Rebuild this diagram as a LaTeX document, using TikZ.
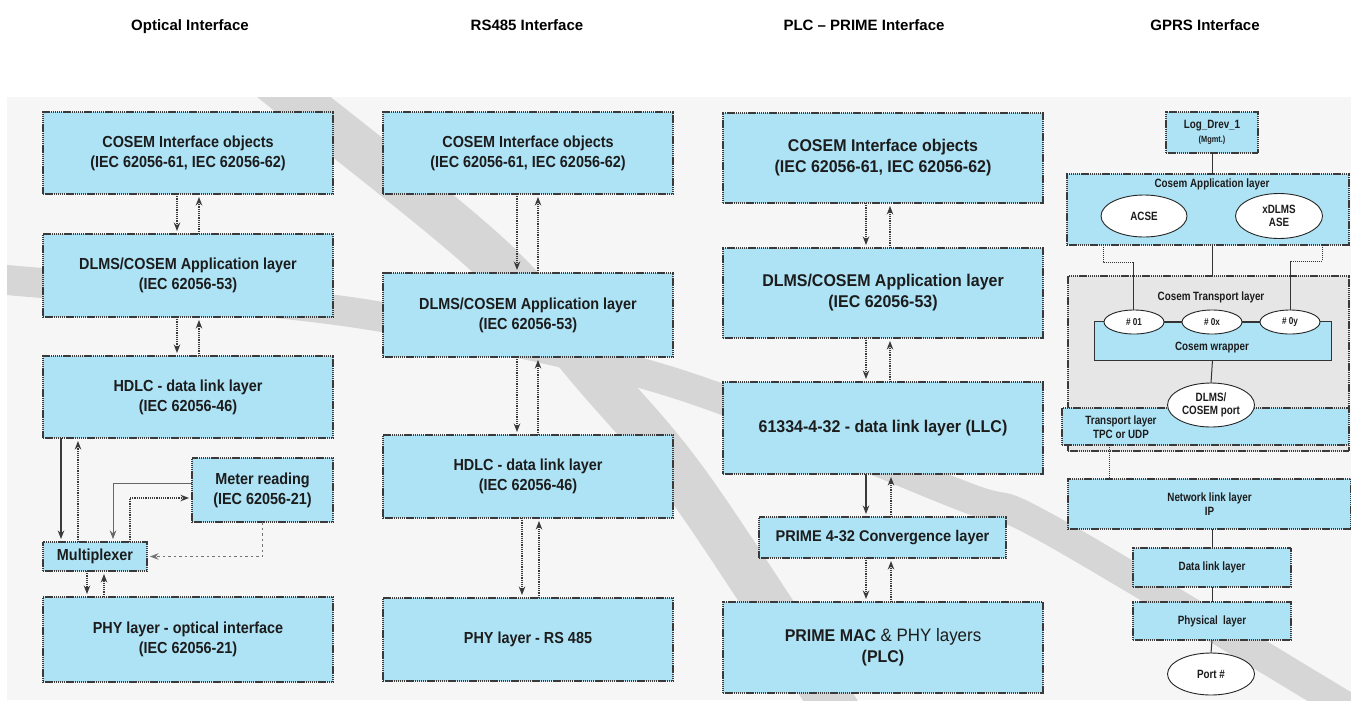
\documentclass[tikz,border=0pt]{standalone}
\usepackage{fontspec}
\setmainfont{Liberation Sans}
\newfontfamily\cnd[FakeStretch=0.9]{Liberation Sans}
\newfontfamily\cndp[FakeStretch=0.94]{Liberation Sans}
\newfontfamily\cndg[FakeStretch=0.82]{Liberation Sans}
\usetikzlibrary{arrows.meta,shapes.geometric}
\definecolor{boxblue}{HTML}{AEE3F6}
\definecolor{panelc}{HTML}{F6F6F6}
\definecolor{stripec}{HTML}{D6D6D6}
\definecolor{tgray}{HTML}{E6E6E6}
\definecolor{bord}{HTML}{3A3A3A}
\definecolor{txt}{HTML}{1C1C1C}
\begin{document}
\begin{tikzpicture}[x=1pt,y=-1pt,
 lay/.style={draw=bord, fill=boxblue, line width=1.1pt, dash pattern=on 1.4pt off 0.7pt, inner sep=0pt, outer sep=0pt, align=center, text=txt},
 ft/.style={font=\cnd\bfseries\fontsize{16}{20}\selectfont},
 fp/.style={font=\cndp\bfseries\fontsize{17}{21}\selectfont},
 fg/.style={font=\cndg\bfseries\fontsize{12}{14}\selectfont, align=center, text=txt},
 ell/.style={ellipse, draw=black!85, fill=white, line width=0.9pt, inner sep=0pt, outer sep=0pt, align=center, text=txt, font=\cndg\bfseries\fontsize{12}{13}\selectfont},
 conn/.style={draw=bord, line width=1.2pt, densely dotted, -{Stealth[length=8.5pt,width=6.5pt]}, shorten >=3pt},
 gline/.style={draw=black!80, line width=1pt},
 gdot/.style={draw=black!80, line width=1pt, densely dotted},
 titl/.style={font=\bfseries\fontsize{15}{18}\selectfont, text=black, anchor=base}
]
\useasboundingbox (0,0) rectangle (1351,702);
\fill[white] (0,0) rectangle (1351,702);
\fill[panelc] (7,97) rectangle (1351,700);
\begin{scope}
\clip (7,97) rectangle (1351,700);
\draw[stripec, line width=46pt] plot[smooth, tension=0.55] coordinates {(245,58) (295,98) (489,256) (600,380) (690,488) (830,700) (846,730)};
\draw[stripec, line width=30pt] plot[smooth, tension=0.55] coordinates {(-20,277) (7,280) (357,313) (665,380) (960,495) (1045,527) (1335,700) (1360,716)};
\end{scope}

% titles
\node[titl] (t1) at (190,30) {Optical Interface};
\node[titl] (t2) at (527,30) {RS485 Interface};
\node[titl] (t3) at (864,30) {PLC \textendash{} PRIME Interface};
\node[titl] (t4) at (1205,30) {GPRS Interface};

% optical
\node[lay, ft, minimum width=290, minimum height=82] (oC) at (188,153) {COSEM Interface objects\\(IEC 62056-61, IEC 62056-62)};
\node[lay, ft, minimum width=290, minimum height=83] (oD) at (188,275.5) {DLMS/COSEM Application layer\\(IEC 62056-53)};
\node[lay, ft, minimum width=290, minimum height=82] (oH) at (188,397) {HDLC - data link layer\\(IEC 62056-46)};
\node[lay, ft, minimum width=141, minimum height=64] (oM) at (262.5,490) {Meter reading\\(IEC 62056-21)};
\node[lay, ft, minimum width=104, minimum height=29] (oX) at (95,556.5) {Multiplexer};
\node[lay, ft, minimum width=290, minimum height=85] (oP) at (188,639.5) {PHY layer - optical interface\\(IEC 62056-21)};

\draw[conn] ([xshift=-11pt]oC.south) -- ([xshift=-11pt]oD.north);
\draw[conn] ([xshift=11pt]oD.north) -- ([xshift=11pt]oC.south);
\draw[conn] ([xshift=-11pt]oD.south) -- ([xshift=-11pt]oH.north);
\draw[conn] ([xshift=11pt]oH.north) -- ([xshift=11pt]oD.south);
\draw[conn, solid, line width=1.4pt] ([xshift=-34pt]oX.north |- oH.south) -- ([xshift=-34pt]oX.north);
\draw[conn] ([xshift=-17pt]oX.north) -- ([xshift=-17pt]oX.north |- oH.south);
\draw[conn, solid, line width=0.6pt, draw=black!60] ([yshift=7pt]oM.west) -| ([xshift=18pt]oX.north);
\draw[conn] ([xshift=35pt]oX.north) |- ([yshift=-8pt]oM.west);
\draw[conn, dash pattern=on 2.5pt off 3pt, draw=black!55] (oM.south) |- (oX.east);
\draw[conn] ([xshift=-8pt]oX.south) -- ([xshift=-8pt]oX.south |- oP.north);
\draw[conn] ([xshift=9pt]oX.south |- oP.north) -- ([xshift=9pt]oX.south);

% RS485
\node[lay, ft, minimum width=290, minimum height=82] (rC) at (528,153) {COSEM Interface objects\\(IEC 62056-61, IEC 62056-62)};
\node[lay, ft, minimum width=290, minimum height=84] (rD) at (528,315) {DLMS/COSEM Application layer\\(IEC 62056-53)};
\node[lay, ft, minimum width=290, minimum height=83] (rH) at (528,476.5) {HDLC - data link layer\\(IEC 62056-46)};
\node[lay, ft, minimum width=290, minimum height=83] (rP) at (528,639.5) {PHY layer - RS 485};
\draw[conn] ([xshift=-11pt]rC.south) -- ([xshift=-11pt]rD.north);
\draw[conn] ([xshift=10pt]rD.north) -- ([xshift=10pt]rC.south);
\draw[conn] ([xshift=-11pt]rD.south) -- ([xshift=-11pt]rH.north);
\draw[conn] ([xshift=10pt]rH.north) -- ([xshift=10pt]rD.south);
\draw[conn] ([xshift=-6pt]rH.south) -- ([xshift=-6pt]rP.north);
\draw[conn] ([xshift=11pt]rP.north) -- ([xshift=11pt]rH.south);

% PLC
\node[lay, fp, minimum width=320, minimum height=90] (pC) at (883,158) {COSEM Interface objects\\(IEC 62056-61, IEC 62056-62)};
\node[lay, fp, minimum width=320, minimum height=90] (pD) at (883,293) {DLMS/COSEM Application layer\\(IEC 62056-53)};
\node[lay, fp, minimum width=320, minimum height=92] (pL) at (883,428) {61334-4-32 - data link layer (LLC)};
\node[lay, fp, font=\cndp\bfseries\fontsize{15.5}{19}\selectfont, minimum width=247, minimum height=41] (pV) at (882.5,537.5) {PRIME 4-32 Convergence layer};
\node[lay, fp, minimum width=320, minimum height=91] (pM) at (883,647.5) {PRIME MAC {\mdseries\fontsize{18}{21}\selectfont\& PHY layers}\\(PLC)};
\draw[conn] ([xshift=-17pt]pC.south) -- ([xshift=-17pt]pD.north);
\draw[conn] ([xshift=7pt]pD.north) -- ([xshift=7pt]pC.south);
\draw[conn] ([xshift=-17pt]pD.south) -- ([xshift=-17pt]pL.north);
\draw[conn] ([xshift=7pt]pL.north) -- ([xshift=7pt]pD.south);
\draw[conn, solid] ([xshift=-17pt]pL.south) -- ([xshift=-17pt]pL.south |- pV.north);
\draw[conn] ([xshift=8pt]pL.south |- pV.north) -- ([xshift=8pt]pL.south);
\draw[conn] ([xshift=-17pt]pL.south |- pV.south) -- ([xshift=-17pt]pL.south |- pM.north);
\draw[conn] ([xshift=8pt]pL.south |- pM.north) -- ([xshift=8pt]pL.south |- pV.south);

% GPRS
\node[lay, fg, minimum width=92, minimum height=41] (gL) at (1212,132.5) {Log\_Drev\_1\\{\fontsize{9}{11}\selectfont(Mgmt.)}};
\node[lay, minimum width=282, minimum height=71] (gA) at (1208,209.5) {};
\node[fg] (gAt) at (1212,184) {Cosem Application layer};
\node[ell, minimum width=86, minimum height=42] (eA) at (1144,216) {ACSE};
\node[ell, minimum width=87, minimum height=45] (eX) at (1279,216) {xDLMS\\ASE};
\node[draw=bord, fill=tgray, line width=1.1pt, dash pattern=on 1.4pt off 0.7pt, minimum width=281, minimum height=175, inner sep=0pt, outer sep=0pt] (gT) at (1208.5,363.5) {};
\node[fg] (gTt) at (1211,297) {Cosem Transport layer};
\node[draw=black!80, fill=boxblue, line width=1pt, minimum width=237, minimum height=39, inner sep=0pt, outer sep=0pt] (gW) at (1212.5,340.5) {};
\node[fg] (gWt) at (1212,348) {Cosem wrapper};
\node[ell, font=\cndg\bfseries\fontsize{10}{12}\selectfont, minimum width=60, minimum height=24] (e01) at (1134,322) {\# 01};
\node[ell, font=\cndg\bfseries\fontsize{10}{12}\selectfont, minimum width=60, minimum height=24] (e0x) at (1212,322) {\# 0x};
\node[ell, font=\cndg\bfseries\fontsize{10}{12}\selectfont, minimum width=60, minimum height=24] (e0y) at (1290,322) {\# 0y};
\draw[gline] (e01.east) -- (e0x.west);
\draw[gline] (e0x.east) -- (e0y.west);
\node[lay, minimum width=287, minimum height=37] (gTL) at (1205.5,426.5) {};
\node[fg] (gTLt) at (1121,427) {Transport layer\\TPC or UDP};
\node[ell, minimum width=87, minimum height=44] (gPort) at (1211,405) {DLMS/\\COSEM port};
\node[lay, fg, minimum width=283, minimum height=50] (gN) at (1209.5,504) {Network link layer\\IP};
\node[lay, fg, minimum width=158, minimum height=39] (gDL) at (1212,567.5) {Data link layer};
\node[lay, fg, minimum width=158, minimum height=38] (gPh) at (1212,621) {Physical\ \ layer};
\node[ell, minimum width=87, minimum height=42] (gPt) at (1211,674) {Port \#};

\coordinate (k1) at (1133,262);
\coordinate (k2) at (1290,261);
\draw[gline] (gL.south) -- (gL.south |- gA.north);
\draw[gline] ([xshift=4pt]gA.south) -- ([xshift=4pt]gA.south |- gT.north);
\draw[gdot] ([xshift=-105pt]gA.south) |- (k1);
\draw[gline] (k1) -- (k1 |- e01.north);
\draw[gdot] ([xshift=114pt]gA.south) |- (k2);
\draw[gline] (k2) -- (k2 |- e0y.north);
\draw[gline] (gW.south) -- (gPort.north);
\draw[gdot] ([xshift=-96.5pt]gTL.south) -- ([xshift=-96.5pt]gTL.south |- gN.north);
\draw[gline] ([xshift=2.5pt]gN.south) -- (gDL.north);
\draw[gline] (gDL.south) -- (gPh.north);
\draw[gline] (gPh.south) -- (gPt.north);
\end{tikzpicture}
\end{document}
